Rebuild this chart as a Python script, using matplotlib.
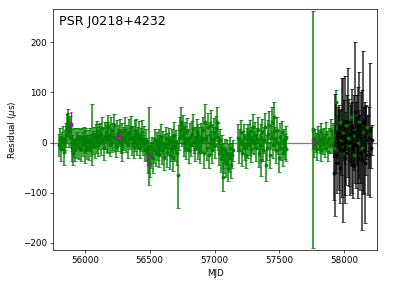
import matplotlib
matplotlib.use("Agg")
import matplotlib.pyplot as plt

# green TOAs (MJD, residual in us, error in us)
mjd_g = [55803, 55810, 55818, 55825, 55831, 55840, 55846, 55853, 55860, 55866, 55872, 55878,
         55884, 55890, 55897, 55904, 55911, 55918, 55925, 55932, 55940, 55947, 55954,
         55961, 55968, 55975, 55983, 55990, 55997, 56004, 56012, 56019, 56026, 56033, 56041,
         56048, 56055,
         56062, 56069, 56076, 56083, 56090, 56097, 56104, 56111, 56118, 56125, 56132, 56140,
         56147, 56154, 56161, 56168, 56175, 56182, 56190, 56197, 56204, 56211, 56218, 56226,
         56233, 56240, 56247, 56254, 56262, 56269, 56276, 56283, 56290, 56297,
         56304, 56311, 56318, 56326, 56333, 56340, 56347, 56354, 56361, 56369, 56376, 56383,
         56390, 56397, 56404, 56412, 56419, 56426, 56433, 56440, 56447, 56455, 56462, 56469, 56476,
         56483, 56490, 56497, 56504, 56511, 56518, 56526, 56533, 56540, 56547, 56554,
         56561, 56568, 56575, 56583, 56590, 56597, 56604, 56612, 56619, 56626, 56633, 56640,
         56647, 56655, 56662, 56669, 56676, 56683, 56690, 56697, 56705, 56712, 56719,
         56726, 56733, 56740, 56747, 56754, 56762, 56769, 56776, 56783, 56790, 56798, 56805,
         56812, 56819, 56826, 56833, 56841, 56848, 56855, 56862, 56869, 56876, 56884, 56891, 56898,
         56905, 56912, 56919, 56926, 56933, 56940, 56948, 56955, 56962, 56969, 56976, 56983,
         56991, 56998, 57005, 57012, 57019, 57026, 57034, 57041, 57048, 57055,
         57062, 57069, 57076, 57083, 57091, 57098, 57105, 57112, 57120, 57127, 57134, 57141,
         57182, 57189, 57196, 57204, 57211, 57218, 57226, 57233, 57240, 57247, 57255, 57262,
         57270, 57277, 57284, 57291, 57298,
         57305, 57312, 57319, 57326, 57333, 57341, 57348, 57355, 57362, 57369, 57376, 57384,
         57391, 57398, 57405, 57412, 57419, 57427, 57434, 57441, 57448, 57455, 57462, 57469,
         57477, 57484, 57491, 57498, 57505, 57512, 57520, 57527, 57534, 57541, 57548, 57555,
         57757, 57763, 57768, 57775, 57782, 57789, 57796, 57803, 57810, 57818, 57825, 57832,
         57839, 57846, 57853, 57860, 57868, 57875, 57882, 57889, 57896, 57903, 57910, 57918,
         57928, 57936, 57944, 57955, 57966, 57978, 57990, 58003, 58015, 58028, 58040, 58053,
         58065, 58078, 58090, 58103, 58115, 58128, 58140, 58152, 58165, 58178]
res_g = [-5, 8, -12, 3, 10, -18, 5, 15, 28, 40, 35, 22,
         30, 12, -10, 5, -20, 0, -15, 8, -5, 10, -8,
         5, -12, 8, -3, 12, -15, 2, 10, -8, 4, -10, 6,
         -5, 16,
         0, 10, -6, 15, 5, 22, -4, 12, 18, 3, 28, 8,
         -10, 14, 20, 6, 30, 10, -5, 16, 25, 2, 12, 35,
         8, -8, 18, 5, 14, 22, 0, 10, -12, 6,
         10, 25, 4, 15, -5, 20, 8, 30, 0, 12, -8, 18,
         5, 22, -3, 10, 15, -10, 6, 20, -5, 8, -15, 2, -12,
         -20, -35, -7, -40, -25, -10, -30, -15, 5, -20, -2,
         -10, 5, -22, -5, 12, -15, 0, -28, -8, 10, -18, -3,
         8, -25, -12, 4, -30, -6, 15, -10, 2, -20, -65,
         10, 25, 40, 15, 30, 0, 20, 8, -10, 22, 5, -15,
         12, -5, 18, 28, 2, -12, 10, 20, -8, 15, 5, -18, 12,
         5, 25, -20, 40, 10, -10, 30, -25, 15, 0, 35, -15,
         8, 20, -5, 28, 40, 12, -20, 5, -30, -10,
         -25, -68, -35, -15, -40, -20, -50, -30, -10, -45, -25, -15,
         10, -15, 5, 20, -20, 0, 12, -8, -25, 8, 15, -5,
         0, 22, -12, 5, 30,
         0, 15, -10, 8, 25, -20, -5, 12, -35, 20, -15, 5,
         30, -45, -10, 18, 35, -25, 10, 40, -5, 22, 50, 8,
         -15, 25, 0, -30, 12, -10, 20, -20, 5, -8, 10, -12,
         5, 26, -8, 10, 0, -12, 15, 5, -5, 20, -15, 8,
         -2, 12, -10, 18, 3, -18, 10, -5, 25, 0, 15, -10,
         10, 80, 30, -15, 40, 5, 20, -20, 35, 10, -5, 50,
         15, -25, 25, 0, 40, 10, -10, 20, 5, 30]
err_g = [22, 20, 25, 18, 22, 26, 20, 24, 28, 26, 24, 31,
         22, 20, 26, 22, 25, 28, 22, 20, 26, 18, 24,
         22, 25, 20, 23, 18, 26, 22, 19, 24, 20, 25, 22,
         22, 60,
         22, 20, 25, 22, 26, 20, 22, 25, 21, 28, 22, 20,
         25, 26, 21, 24, 25, 31, 22, 20, 25, 21, 26, 22,
         25, 21, 26, 22, 20, 25, 21, 28, 24, 20,
         21, 25, 22, 20, 25, 26, 21, 22, 25, 20, 22, 26,
         21, 25, 22, 20, 28, 21, 22, 25, 20, 24, 21, 25, 22,
         25, 26, 77, 28, 26, 22, 31, 25, 21, 26, 22,
         25, 22, 26, 21, 25, 28, 22, 26, 25, 21, 30, 22,
         20, 28, 25, 22, 26, 21, 25, 26, 22, 25, 65,
         25, 26, 31, 22, 25, 26, 21, 25, 22, 26, 21, 25,
         26, 22, 25, 28, 22, 25, 21, 26, 24, 21, 25, 22, 26,
         25, 26, 31, 36, 26, 25, 28, 26, 25, 22, 30, 25,
         22, 28, 26, 25, 31, 26, 25, 22, 28, 25,
         25, 28, 26, 22, 28, 25, 26, 28, 22, 26, 25, 21,
         26, 25, 21, 25, 26, 22, 25, 26, 25, 21, 22, 26,
         25, 22, 26, 25, 26,
         22, 25, 26, 21, 25, 28, 22, 25, 31, 26, 22, 25,
         28, 31, 25, 26, 28, 26, 22, 30, 25, 26, 30, 22,
         26, 25, 22, 28, 26, 25, 22, 26, 21, 25, 22, 25,
         18, 236, 20, 16, 19, 22, 18, 20, 16, 19, 22, 18,
         20, 16, 19, 22, 20, 18, 19, 16, 22, 20, 24, 19,
         24, 25, 22, 24, 26, 22, 24, 22, 26, 20, 24, 28,
         22, 24, 26, 22, 24, 20, 22, 26, 22, 24]

# black TOAs
mjd_k = [57925, 57931, 57937, 57943, 57950, 57957, 57963, 57970, 57977, 57983, 57990, 57996,
         58003, 58010, 58016, 58023, 58030, 58037, 58043, 58050, 58057, 58063, 58070, 58077,
         58083, 58090, 58097, 58104, 58110, 58117, 58124, 58131, 58137, 58144, 58151, 58158,
         58165, 58172, 58180, 58188, 58196, 58204, 58212]
res_k = [-60, -25, 10, -40, 20, -15, 30, -50, 0, 10, -15, 25,
         -30, 6, -20, 40, 40, 0, -35, 15, -10, 30, -45, 20,
         60, -5, 25, -30, 15, 35, -20, 10, -35, 40, -15, -40,
         5, 20, -25, 10, 25, -10, 5]
err_k = [55, 121, 70, 60, 50, 80, 45, 70, 65, 118, 143, 60,
         75, 127, 65, 55, 109, 86, 70, 60, 90, 77, 65, 75,
         140, 85, 70, 80, 96, 106, 75, 90, 140, 143, 85, 120,
         70, 53, 80, 60, 134, 40, 30]

# magenta TOAs
mjd_m = [55892, 56262, 56485, 57770]
res_m = [36, 11, -28, 2]
err_m = [25, 10, 18, 5]

fig = plt.figure(figsize=(419 / 63, 286 / 63), dpi=63)
ax = fig.add_axes([0.1265, 0.126, 0.7735, 0.8425])

ax.axhline(0, color='grey', lw=1.5, zorder=0)
ax.errorbar(mjd_g, res_g, yerr=err_g, fmt='o', color='g', ms=3.5, capsize=2.5,
            elinewidth=1.8, alpha=0.9)
ax.errorbar(mjd_k, res_k, yerr=err_k, fmt='o', color='k', ms=3.5, capsize=2.5,
            elinewidth=1.8, alpha=0.8)
ax.errorbar(mjd_m, res_m, yerr=err_m, fmt='o', color='m', ms=3.5, capsize=1)

ax.set_xlim(55754, 58254)
ax.set_ylim(-214, 266)
ax.set_xticks([56000, 56500, 57000, 57500, 58000])
ax.set_yticks([-200, -100, 0, 100, 200])
ax.set_xlabel('MJD')
ax.set_ylabel(r'Residual ($\mu$s)')
ax.text(0.018, 0.975, 'PSR J0218+4232', transform=ax.transAxes,
        fontsize='x-large', va='top', ha='left')

fig.savefig('out.png', dpi=63)
